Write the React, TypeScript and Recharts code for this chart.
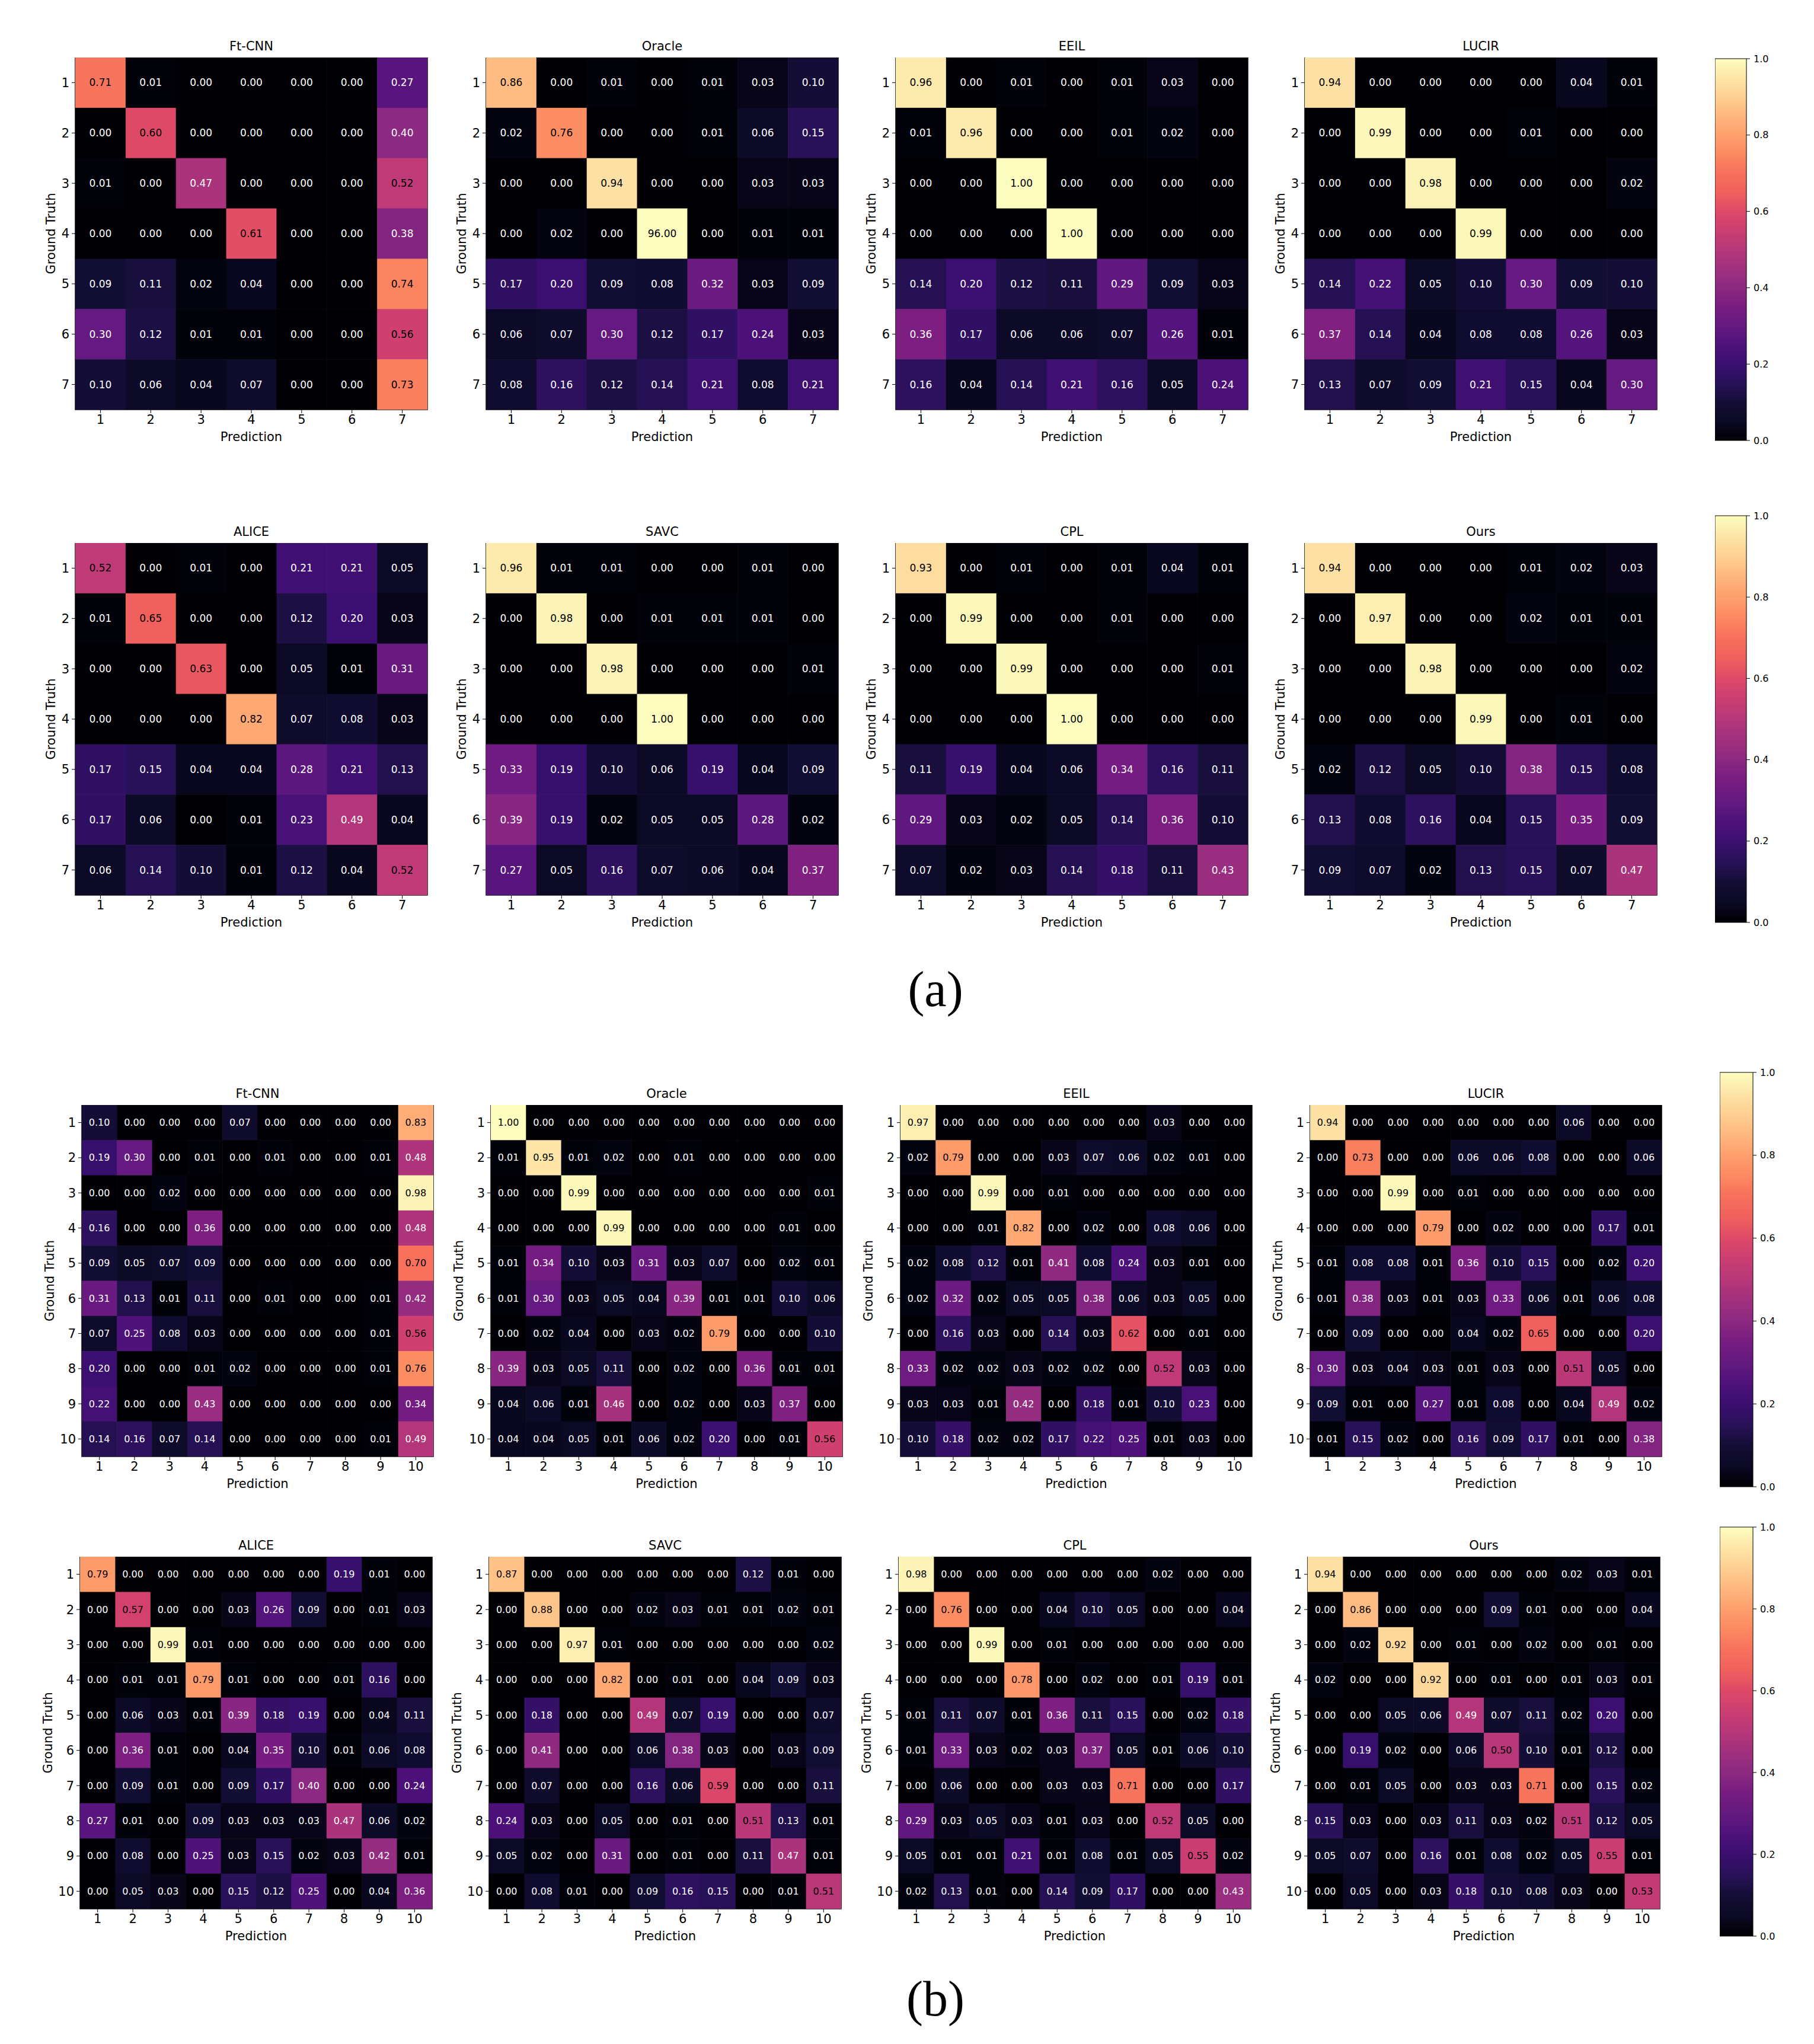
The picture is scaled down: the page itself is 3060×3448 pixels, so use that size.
import React from "react";
import {
  ScatterChart,
  Scatter,
  BarChart,
  Bar,
  XAxis,
  YAxis,
  ReferenceArea,
} from "recharts";

const ticks7 = [1, 2, 3, 4, 5, 6, 7];
const ticks10 = [1, 2, 3, 4, 5, 6, 7, 8, 9, 10];
const cbTicks = [0, 0.2, 0.4, 0.6, 0.8, 1.0];
const cbRange = [{ name: "scale", v: 1.0 }];

// (a) 7 classes
const ftcnnA = [
  [0.71, 0.01, 0.0, 0.0, 0.0, 0.0, 0.27],
  [0.0, 0.6, 0.0, 0.0, 0.0, 0.0, 0.4],
  [0.01, 0.0, 0.47, 0.0, 0.0, 0.0, 0.52],
  [0.0, 0.0, 0.0, 0.61, 0.0, 0.0, 0.38],
  [0.09, 0.11, 0.02, 0.04, 0.0, 0.0, 0.74],
  [0.3, 0.12, 0.01, 0.01, 0.0, 0.0, 0.56],
  [0.1, 0.06, 0.04, 0.07, 0.0, 0.0, 0.73],
];
const oracleA = [
  [0.86, 0.0, 0.01, 0.0, 0.01, 0.03, 0.1],
  [0.02, 0.76, 0.0, 0.0, 0.01, 0.06, 0.15],
  [0.0, 0.0, 0.94, 0.0, 0.0, 0.03, 0.03],
  [0.0, 0.02, 0.0, 96.0, 0.0, 0.01, 0.01],
  [0.17, 0.2, 0.09, 0.08, 0.32, 0.03, 0.09],
  [0.06, 0.07, 0.3, 0.12, 0.17, 0.24, 0.03],
  [0.08, 0.16, 0.12, 0.14, 0.21, 0.08, 0.21],
];
const eeilA = [
  [0.96, 0.0, 0.01, 0.0, 0.01, 0.03, 0.0],
  [0.01, 0.96, 0.0, 0.0, 0.01, 0.02, 0.0],
  [0.0, 0.0, 1.0, 0.0, 0.0, 0.0, 0.0],
  [0.0, 0.0, 0.0, 1.0, 0.0, 0.0, 0.0],
  [0.14, 0.2, 0.12, 0.11, 0.29, 0.09, 0.03],
  [0.36, 0.17, 0.06, 0.06, 0.07, 0.26, 0.01],
  [0.16, 0.04, 0.14, 0.21, 0.16, 0.05, 0.24],
];
const lucirA = [
  [0.94, 0.0, 0.0, 0.0, 0.0, 0.04, 0.01],
  [0.0, 0.99, 0.0, 0.0, 0.01, 0.0, 0.0],
  [0.0, 0.0, 0.98, 0.0, 0.0, 0.0, 0.02],
  [0.0, 0.0, 0.0, 0.99, 0.0, 0.0, 0.0],
  [0.14, 0.22, 0.05, 0.1, 0.3, 0.09, 0.1],
  [0.37, 0.14, 0.04, 0.08, 0.08, 0.26, 0.03],
  [0.13, 0.07, 0.09, 0.21, 0.15, 0.04, 0.3],
];
const aliceA = [
  [0.52, 0.0, 0.01, 0.0, 0.21, 0.21, 0.05],
  [0.01, 0.65, 0.0, 0.0, 0.12, 0.2, 0.03],
  [0.0, 0.0, 0.63, 0.0, 0.05, 0.01, 0.31],
  [0.0, 0.0, 0.0, 0.82, 0.07, 0.08, 0.03],
  [0.17, 0.15, 0.04, 0.04, 0.28, 0.21, 0.13],
  [0.17, 0.06, 0.0, 0.01, 0.23, 0.49, 0.04],
  [0.06, 0.14, 0.1, 0.01, 0.12, 0.04, 0.52],
];
const savcA = [
  [0.96, 0.01, 0.01, 0.0, 0.0, 0.01, 0.0],
  [0.0, 0.98, 0.0, 0.01, 0.01, 0.01, 0.0],
  [0.0, 0.0, 0.98, 0.0, 0.0, 0.0, 0.01],
  [0.0, 0.0, 0.0, 1.0, 0.0, 0.0, 0.0],
  [0.33, 0.19, 0.1, 0.06, 0.19, 0.04, 0.09],
  [0.39, 0.19, 0.02, 0.05, 0.05, 0.28, 0.02],
  [0.27, 0.05, 0.16, 0.07, 0.06, 0.04, 0.37],
];
const cplA = [
  [0.93, 0.0, 0.01, 0.0, 0.01, 0.04, 0.01],
  [0.0, 0.99, 0.0, 0.0, 0.01, 0.0, 0.0],
  [0.0, 0.0, 0.99, 0.0, 0.0, 0.0, 0.01],
  [0.0, 0.0, 0.0, 1.0, 0.0, 0.0, 0.0],
  [0.11, 0.19, 0.04, 0.06, 0.34, 0.16, 0.11],
  [0.29, 0.03, 0.02, 0.05, 0.14, 0.36, 0.1],
  [0.07, 0.02, 0.03, 0.14, 0.18, 0.11, 0.43],
];
const oursA = [
  [0.94, 0.0, 0.0, 0.0, 0.01, 0.02, 0.03],
  [0.0, 0.97, 0.0, 0.0, 0.02, 0.01, 0.01],
  [0.0, 0.0, 0.98, 0.0, 0.0, 0.0, 0.02],
  [0.0, 0.0, 0.0, 0.99, 0.0, 0.01, 0.0],
  [0.02, 0.12, 0.05, 0.1, 0.38, 0.15, 0.08],
  [0.13, 0.08, 0.16, 0.04, 0.15, 0.35, 0.09],
  [0.09, 0.07, 0.02, 0.13, 0.15, 0.07, 0.47],
];

// (b) 10 classes
const ftcnnB = [
  [0.1, 0.0, 0.0, 0.0, 0.07, 0.0, 0.0, 0.0, 0.0, 0.83],
  [0.19, 0.3, 0.0, 0.01, 0.0, 0.01, 0.0, 0.0, 0.01, 0.48],
  [0.0, 0.0, 0.02, 0.0, 0.0, 0.0, 0.0, 0.0, 0.0, 0.98],
  [0.16, 0.0, 0.0, 0.36, 0.0, 0.0, 0.0, 0.0, 0.0, 0.48],
  [0.09, 0.05, 0.07, 0.09, 0.0, 0.0, 0.0, 0.0, 0.0, 0.7],
  [0.31, 0.13, 0.01, 0.11, 0.0, 0.01, 0.0, 0.0, 0.01, 0.42],
  [0.07, 0.25, 0.08, 0.03, 0.0, 0.0, 0.0, 0.0, 0.01, 0.56],
  [0.2, 0.0, 0.0, 0.01, 0.02, 0.0, 0.0, 0.0, 0.01, 0.76],
  [0.22, 0.0, 0.0, 0.43, 0.0, 0.0, 0.0, 0.0, 0.0, 0.34],
  [0.14, 0.16, 0.07, 0.14, 0.0, 0.0, 0.0, 0.0, 0.01, 0.49],
];
const oracleB = [
  [1.0, 0.0, 0.0, 0.0, 0.0, 0.0, 0.0, 0.0, 0.0, 0.0],
  [0.01, 0.95, 0.01, 0.02, 0.0, 0.01, 0.0, 0.0, 0.0, 0.0],
  [0.0, 0.0, 0.99, 0.0, 0.0, 0.0, 0.0, 0.0, 0.0, 0.01],
  [0.0, 0.0, 0.0, 0.99, 0.0, 0.0, 0.0, 0.0, 0.01, 0.0],
  [0.01, 0.34, 0.1, 0.03, 0.31, 0.03, 0.07, 0.0, 0.02, 0.01],
  [0.01, 0.3, 0.03, 0.05, 0.04, 0.39, 0.01, 0.01, 0.1, 0.06],
  [0.0, 0.02, 0.04, 0.0, 0.03, 0.02, 0.79, 0.0, 0.0, 0.1],
  [0.39, 0.03, 0.05, 0.11, 0.0, 0.02, 0.0, 0.36, 0.01, 0.01],
  [0.04, 0.06, 0.01, 0.46, 0.0, 0.02, 0.0, 0.03, 0.37, 0.0],
  [0.04, 0.04, 0.05, 0.01, 0.06, 0.02, 0.2, 0.0, 0.01, 0.56],
];
const eeilB = [
  [0.97, 0.0, 0.0, 0.0, 0.0, 0.0, 0.0, 0.03, 0.0, 0.0],
  [0.02, 0.79, 0.0, 0.0, 0.03, 0.07, 0.06, 0.02, 0.01, 0.0],
  [0.0, 0.0, 0.99, 0.0, 0.01, 0.0, 0.0, 0.0, 0.0, 0.0],
  [0.0, 0.0, 0.01, 0.82, 0.0, 0.02, 0.0, 0.08, 0.06, 0.0],
  [0.02, 0.08, 0.12, 0.01, 0.41, 0.08, 0.24, 0.03, 0.01, 0.0],
  [0.02, 0.32, 0.02, 0.05, 0.05, 0.38, 0.06, 0.03, 0.05, 0.0],
  [0.0, 0.16, 0.03, 0.0, 0.14, 0.03, 0.62, 0.0, 0.01, 0.0],
  [0.33, 0.02, 0.02, 0.03, 0.02, 0.02, 0.0, 0.52, 0.03, 0.0],
  [0.03, 0.03, 0.01, 0.42, 0.0, 0.18, 0.01, 0.1, 0.23, 0.0],
  [0.1, 0.18, 0.02, 0.02, 0.17, 0.22, 0.25, 0.01, 0.03, 0.0],
];
const lucirB = [
  [0.94, 0.0, 0.0, 0.0, 0.0, 0.0, 0.0, 0.06, 0.0, 0.0],
  [0.0, 0.73, 0.0, 0.0, 0.06, 0.06, 0.08, 0.0, 0.0, 0.06],
  [0.0, 0.0, 0.99, 0.0, 0.01, 0.0, 0.0, 0.0, 0.0, 0.0],
  [0.0, 0.0, 0.0, 0.79, 0.0, 0.02, 0.0, 0.0, 0.17, 0.01],
  [0.01, 0.08, 0.08, 0.01, 0.36, 0.1, 0.15, 0.0, 0.02, 0.2],
  [0.01, 0.38, 0.03, 0.01, 0.03, 0.33, 0.06, 0.01, 0.06, 0.08],
  [0.0, 0.09, 0.0, 0.0, 0.04, 0.02, 0.65, 0.0, 0.0, 0.2],
  [0.3, 0.03, 0.04, 0.03, 0.01, 0.03, 0.0, 0.51, 0.05, 0.0],
  [0.09, 0.01, 0.0, 0.27, 0.01, 0.08, 0.0, 0.04, 0.49, 0.02],
  [0.01, 0.15, 0.02, 0.0, 0.16, 0.09, 0.17, 0.01, 0.0, 0.38],
];
const aliceB = [
  [0.79, 0.0, 0.0, 0.0, 0.0, 0.0, 0.0, 0.19, 0.01, 0.0],
  [0.0, 0.57, 0.0, 0.0, 0.03, 0.26, 0.09, 0.0, 0.01, 0.03],
  [0.0, 0.0, 0.99, 0.01, 0.0, 0.0, 0.0, 0.0, 0.0, 0.0],
  [0.0, 0.01, 0.01, 0.79, 0.01, 0.0, 0.0, 0.01, 0.16, 0.0],
  [0.0, 0.06, 0.03, 0.01, 0.39, 0.18, 0.19, 0.0, 0.04, 0.11],
  [0.0, 0.36, 0.01, 0.0, 0.04, 0.35, 0.1, 0.01, 0.06, 0.08],
  [0.0, 0.09, 0.01, 0.0, 0.09, 0.17, 0.4, 0.0, 0.0, 0.24],
  [0.27, 0.01, 0.0, 0.09, 0.03, 0.03, 0.03, 0.47, 0.06, 0.02],
  [0.0, 0.08, 0.0, 0.25, 0.03, 0.15, 0.02, 0.03, 0.42, 0.01],
  [0.0, 0.05, 0.03, 0.0, 0.15, 0.12, 0.25, 0.0, 0.04, 0.36],
];
const savcB = [
  [0.87, 0.0, 0.0, 0.0, 0.0, 0.0, 0.0, 0.12, 0.01, 0.0],
  [0.0, 0.88, 0.0, 0.0, 0.02, 0.03, 0.01, 0.01, 0.02, 0.01],
  [0.0, 0.0, 0.97, 0.01, 0.0, 0.0, 0.0, 0.0, 0.0, 0.02],
  [0.0, 0.0, 0.0, 0.82, 0.0, 0.01, 0.0, 0.04, 0.09, 0.03],
  [0.0, 0.18, 0.0, 0.0, 0.49, 0.07, 0.19, 0.0, 0.0, 0.07],
  [0.0, 0.41, 0.0, 0.0, 0.06, 0.38, 0.03, 0.0, 0.03, 0.09],
  [0.0, 0.07, 0.0, 0.0, 0.16, 0.06, 0.59, 0.0, 0.0, 0.11],
  [0.24, 0.03, 0.0, 0.05, 0.0, 0.01, 0.0, 0.51, 0.13, 0.01],
  [0.05, 0.02, 0.0, 0.31, 0.0, 0.01, 0.0, 0.11, 0.47, 0.01],
  [0.0, 0.08, 0.01, 0.0, 0.09, 0.16, 0.15, 0.0, 0.01, 0.51],
];
const cplB = [
  [0.98, 0.0, 0.0, 0.0, 0.0, 0.0, 0.0, 0.02, 0.0, 0.0],
  [0.0, 0.76, 0.0, 0.0, 0.04, 0.1, 0.05, 0.0, 0.0, 0.04],
  [0.0, 0.0, 0.99, 0.0, 0.01, 0.0, 0.0, 0.0, 0.0, 0.0],
  [0.0, 0.0, 0.0, 0.78, 0.0, 0.02, 0.0, 0.01, 0.19, 0.01],
  [0.01, 0.11, 0.07, 0.01, 0.36, 0.11, 0.15, 0.0, 0.02, 0.18],
  [0.01, 0.33, 0.03, 0.02, 0.03, 0.37, 0.05, 0.01, 0.06, 0.1],
  [0.0, 0.06, 0.0, 0.0, 0.03, 0.03, 0.71, 0.0, 0.0, 0.17],
  [0.29, 0.03, 0.05, 0.03, 0.01, 0.03, 0.0, 0.52, 0.05, 0.0],
  [0.05, 0.01, 0.01, 0.21, 0.01, 0.08, 0.01, 0.05, 0.55, 0.02],
  [0.02, 0.13, 0.01, 0.0, 0.14, 0.09, 0.17, 0.0, 0.0, 0.43],
];
const oursB = [
  [0.94, 0.0, 0.0, 0.0, 0.0, 0.0, 0.0, 0.02, 0.03, 0.01],
  [0.0, 0.86, 0.0, 0.0, 0.0, 0.09, 0.01, 0.0, 0.0, 0.04],
  [0.0, 0.02, 0.92, 0.0, 0.01, 0.0, 0.02, 0.0, 0.01, 0.0],
  [0.02, 0.0, 0.0, 0.92, 0.0, 0.01, 0.0, 0.01, 0.03, 0.01],
  [0.0, 0.0, 0.05, 0.06, 0.49, 0.07, 0.11, 0.02, 0.2, 0.0],
  [0.0, 0.19, 0.02, 0.0, 0.06, 0.5, 0.1, 0.01, 0.12, 0.0],
  [0.0, 0.01, 0.05, 0.0, 0.03, 0.03, 0.71, 0.0, 0.15, 0.02],
  [0.15, 0.03, 0.0, 0.03, 0.11, 0.03, 0.02, 0.51, 0.12, 0.05],
  [0.05, 0.07, 0.0, 0.16, 0.01, 0.08, 0.02, 0.05, 0.55, 0.01],
  [0.0, 0.05, 0.0, 0.03, 0.18, 0.1, 0.08, 0.03, 0.0, 0.53],
];

// magma colormap stops
const MAGMA: [number, string][] = [
  [0.0, "#000004"],
  [0.05, "#0b0924"],
  [0.1, "#140e36"],
  [0.15, "#29115a"],
  [0.2, "#3b0f70"],
  [0.25, "#4f127b"],
  [0.3, "#641a80"],
  [0.35, "#781c81"],
  [0.4, "#8c2981"],
  [0.45, "#a1307e"],
  [0.5, "#b73779"],
  [0.55, "#cb3e72"],
  [0.6, "#de4968"],
  [0.65, "#f0605d"],
  [0.7, "#f7705c"],
  [0.75, "#fc8961"],
  [0.8, "#fe9f6d"],
  [0.85, "#feb77e"],
  [0.9, "#fecf92"],
  [0.95, "#fde6a8"],
  [1.0, "#fcfdbf"],
];

const rgb = (h: string) => [1, 3, 5].map((i) => parseInt(h.slice(i, i + 2), 16));

function magma(v: number) {
  const t = Math.max(0, Math.min(1, v));
  for (let i = 1; i < MAGMA.length; i++) {
    const [o1, c1] = MAGMA[i];
    if (t <= o1) {
      const [o0, c0] = MAGMA[i - 1];
      const f = (t - o0) / (o1 - o0);
      const a = rgb(c0);
      const b = rgb(c1);
      const c = a.map((x, k) => Math.round(x + (b[k] - x) * f));
      return `rgb(${c[0]},${c[1]},${c[2]})`;
    }
  }
  return MAGMA[MAGMA.length - 1][1];
}

const FONT = '"DejaVu Sans", sans-serif';

const grids = [
  { title: "Ft-CNN", m: ftcnnA, ticks: ticks7, left: 127, top: 97, size: 594, font: 17, gt: 41 },
  { title: "Oracle", m: oracleA, ticks: ticks7, left: 820, top: 97, size: 594, font: 17, gt: 41 },
  { title: "EEIL", m: eeilA, ticks: ticks7, left: 1511, top: 97, size: 594, font: 17, gt: 41 },
  { title: "LUCIR", m: lucirA, ticks: ticks7, left: 2201, top: 97, size: 594, font: 17, gt: 41 },
  { title: "ALICE", m: aliceA, ticks: ticks7, left: 127, top: 916, size: 594, font: 17, gt: 41 },
  { title: "SAVC", m: savcA, ticks: ticks7, left: 820, top: 916, size: 594, font: 17, gt: 41 },
  { title: "CPL", m: cplA, ticks: ticks7, left: 1511, top: 916, size: 594, font: 17, gt: 41 },
  { title: "Ours", m: oursA, ticks: ticks7, left: 2201, top: 916, size: 594, font: 17, gt: 41 },
  { title: "Ft-CNN", m: ftcnnB, ticks: ticks10, left: 138, top: 1864, size: 593, font: 16, gt: 54 },
  { title: "Oracle", m: oracleB, ticks: ticks10, left: 828, top: 1864, size: 593, font: 16, gt: 54 },
  { title: "EEIL", m: eeilB, ticks: ticks10, left: 1519, top: 1864, size: 593, font: 16, gt: 54 },
  { title: "LUCIR", m: lucirB, ticks: ticks10, left: 2210, top: 1864, size: 593, font: 16, gt: 54 },
  { title: "ALICE", m: aliceB, ticks: ticks10, left: 135, top: 2626, size: 594, font: 16, gt: 54 },
  { title: "SAVC", m: savcB, ticks: ticks10, left: 825, top: 2626, size: 594, font: 16, gt: 54 },
  { title: "CPL", m: cplB, ticks: ticks10, left: 1516, top: 2626, size: 594, font: 16, gt: 54 },
  { title: "Ours", m: oursB, ticks: ticks10, left: 2206, top: 2626, size: 594, font: 16, gt: 54 },
];

const colorbars = [
  { id: "cbA1", left: 2893, top: 99, w: 53, h: 644 },
  { id: "cbA2", left: 2893, top: 870, w: 53, h: 686 },
  { id: "cbB1", left: 2901, top: 1809, w: 56, h: 699 },
  { id: "cbB2", left: 2901, top: 2576, w: 56, h: 690 },
];

const ML = 80;
const MR = 10;
const MB = 70;

function Heatmap({ title, m, ticks, left, top, size, font, gt }: any) {
  const n = ticks.length;
  const cs = size / n;
  const data = m.flatMap((row: number[], i: number) =>
    row.map((v, j) => ({ x: ticks[j], y: ticks[i], v }))
  );
  const cell = (p: any) => {
    const { cx, cy, payload } = p;
    return (
      <g>
        <rect x={cx - cs / 2} y={cy - cs / 2} width={cs + 0.6} height={cs + 0.6} fill={magma(payload.v)} />
        <text
          x={cx}
          y={cy}
          textAnchor="middle"
          dominantBaseline="central"
          fontSize={font}
          fill={payload.v >= 0.5 ? "#000" : "#fff"}
        >
          {payload.v.toFixed(2)}
        </text>
      </g>
    );
  };
  const tickStyle = { fill: "#000", fontSize: 21 };
  return (
    <>
      <div
        style={{
          position: "absolute",
          left,
          top: top - 32,
          width: size,
          textAlign: "center",
          fontSize: 21,
          lineHeight: "26px",
        }}
      >
        {title}
      </div>
      <div style={{ position: "absolute", left: left - ML, top }}>
        <ScatterChart
          width={size + ML + MR}
          height={size + MB}
          margin={{ top: 0, right: MR, bottom: 0, left: 0 }}
        >
          <XAxis
            type="number"
            dataKey="x"
            domain={[0.5, n + 0.5]}
            allowDataOverflow
            ticks={ticks}
            interval={0}
            height={MB}
            tick={tickStyle}
            tickSize={6}
            tickMargin={3}
            tickLine={{ stroke: "#000" }}
            axisLine={false}
            label={() => (
              <text x={ML + size / 2} y={size + 53} textAnchor="middle" fontSize={21} fill="#000">
                Prediction
              </text>
            )}
          />
          <YAxis
            type="number"
            dataKey="y"
            domain={[0.5, n + 0.5]}
            allowDataOverflow
            reversed
            ticks={ticks}
            interval={0}
            width={ML}
            tick={tickStyle}
            tickSize={6}
            tickMargin={4}
            tickLine={{ stroke: "#000" }}
            axisLine={false}
            label={() => (
              <text
                x={ML - gt}
                y={size / 2}
                textAnchor="middle"
                dominantBaseline="central"
                fontSize={21}
                fill="#000"
                transform={`rotate(-90, ${ML - gt}, ${size / 2})`}
              >
                Ground Truth
              </text>
            )}
          />
          <Scatter data={data} shape={cell} isAnimationActive={false} />
          <ReferenceArea
            x1={0.5}
            x2={n + 0.5}
            y1={0.5}
            y2={n + 0.5}
            fill="none"
            stroke="#000"
            strokeWidth={1.5}
            ifOverflow="visible"
          />
        </ScatterChart>
      </div>
    </>
  );
}

function ColorBar({ id, left, top, w, h }: any) {
  return (
    <div style={{ position: "absolute", left, top: top - 10 }}>
      <BarChart
        width={w + 60}
        height={h + 20}
        data={cbRange}
        margin={{ top: 10, bottom: 10, left: 0, right: 0 }}
        barCategoryGap={0}
      >
        <defs>
          <linearGradient id={id} x1="0" y1="1" x2="0" y2="0">
            {MAGMA.map(([o, c]) => (
              <stop key={o} offset={o} stopColor={c} />
            ))}
          </linearGradient>
        </defs>
        <XAxis dataKey="name" type="category" hide height={0} />
        <YAxis
          type="number"
          orientation="right"
          domain={[0, 1]}
          ticks={cbTicks}
          interval={0}
          width={60}
          tickFormatter={(v: number) => v.toFixed(1)}
          tick={{ fill: "#000", fontSize: 16 }}
          tickSize={6}
          tickMargin={6}
          tickLine={{ stroke: "#000" }}
          axisLine={false}
        />
        <Bar
          dataKey="v"
          fill={`url(#${id})`}
          stroke="#000"
          strokeWidth={1}
          isAnimationActive={false}
        />
      </BarChart>
    </div>
  );
}

const panelLabel = {
  position: "absolute" as const,
  left: 1378,
  width: 400,
  textAlign: "center" as const,
  fontFamily: '"Liberation Serif", serif',
  fontSize: 84,
  lineHeight: "100px",
};

export default function App() {
  return (
    <div
      style={{
        position: "absolute",
        left: 0,
        top: 0,
        width: 3060,
        height: 3448,
        background: "#fff",
        fontFamily: FONT,
        color: "#000",
      }}
    >
      {grids.map((g, i) => (
        <Heatmap key={i} {...g} />
      ))}
      {colorbars.map((c) => (
        <ColorBar key={c.id} {...c} />
      ))}
      <div style={{ ...panelLabel, top: 1619 }}>(a)</div>
      <div style={{ ...panelLabel, top: 3322 }}>(b)</div>
    </div>
  );
}
